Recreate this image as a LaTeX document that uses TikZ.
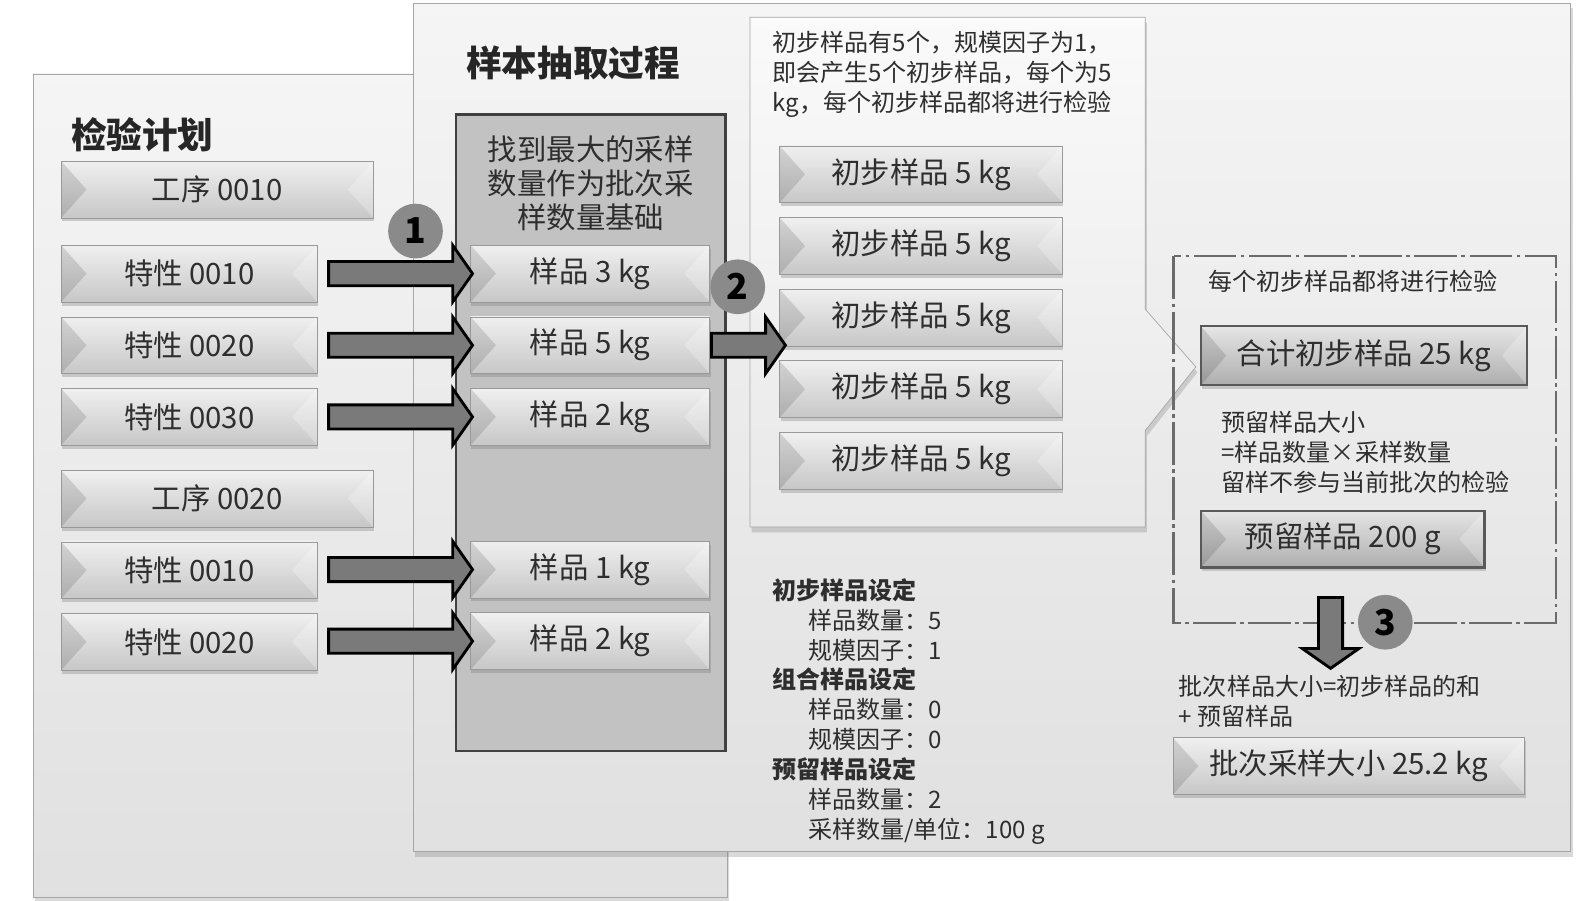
\documentclass[tikz,border=0pt]{standalone}
\usepackage{fontspec}
\setmainfont{Noto Sans CJK SC}
\usetikzlibrary{positioning,shapes.arrows,shadows}
\colorlet{ink}{black!82}
\colorlet{markc}{black!46}
\newcommand{\btnsize}{\fontsize{16.5}{19}\selectfont}
\newcommand{\txtsize}{\fontsize{13.5}{16.8}\selectfont}

\begin{document}
\begin{tikzpicture}[x=0.02cm,y=-0.02cm,font=\txtsize,text=ink,
  panel/.style={draw=black!35,top color=black!4,bottom color=black!12,
    drop shadow={shadow xshift=1pt,shadow yshift=-3pt,opacity=.3}},
  btn/.style={draw=black!40,top color=black!6,bottom color=black!22,
    minimum width=5.06cm,minimum height=1.12cm,inner sep=0pt,font=\btnsize,
    drop shadow={shadow xshift=.5pt,shadow yshift=-2pt,opacity=.35},
    path picture={
      \fill[black,opacity=.12] (path picture bounding box.north west)
        -- ([xshift=.5cm]path picture bounding box.west)
        -- (path picture bounding box.south west) -- cycle;
      \fill[white,opacity=.25] (path picture bounding box.north east)
        -- ([xshift=-.5cm]path picture bounding box.east)
        -- (path picture bounding box.south east) -- cycle;}},
  wide/.style={minimum width=6.16cm},
  strong/.style={draw=black!65,line width=1.3pt,top color=black!10,bottom color=black!32},
  heading/.style={font=\fontsize{20}{24}\selectfont\bfseries,text=black!85},
  stepmark/.style={circle,fill=markc,minimum size=1.08cm,inner sep=0pt,
    font=\fontsize{20}{20}\selectfont\bfseries,text=black},
  fat/.style={single arrow,draw=black,line width=1.6pt,fill=black!52,
    minimum width=1.1cm,inner sep=.21cm,single arrow head extend=.32cm,
    single arrow tip angle=110},
  dashbox/.style={draw=black!58,line width=1.2pt,
    dash pattern=on 24pt off 2.5pt on 2pt off 2.5pt}]
\useasboundingbox (0,0) rectangle (1568,889);
% --- panels ---
\path[panel] (33,73) rectangle (718,885);
\path[panel] (408,3) rectangle (1550,840);
\node[heading,anchor=west] (plantitle) at (64,133) {检验计划};
\node[heading,anchor=west] (proctitle) at (454,62) {样本抽取过程};
% --- inspection plan ---
\node[btn,wide,anchor=west] (op1) at (60,187) {工序 0010};
\node[btn,anchor=west] (c11) at (60,270) {特性 0010};
\node[btn,below=.28cm of c11] (c12) {特性 0020};
\node[btn,below=.28cm of c12] (c13) {特性 0030};
\node[btn,wide,anchor=west] (op2) at (60,492) {工序 0020};
\node[btn,below=.28cm of op2.south west,anchor=north west] (c21) {特性 0010};
\node[btn,below=.28cm of c21] (c22) {特性 0020};
% --- largest sample per characteristic ---
\path[draw=black!75,line width=1.3pt,fill=black!24] (450,113) rectangle (716,741);
\node[align=center,font=\fontsize{16.5}{19.3}\selectfont] (maxtxt) at (583,181)
  {找到最大的采样\\数量作为批次采\\样数量基础};
\node[btn,minimum width=4.72cm,anchor=west] (s1) at (464,270) {样品 3 kg};
\node[btn,minimum width=4.72cm,below=.28cm of s1] (s2) {样品 5 kg};
\node[btn,minimum width=4.72cm,below=.28cm of s2] (s3) {样品 2 kg};
\node[btn,minimum width=4.72cm,anchor=west] (s4) at (464,562) {样品 1 kg};
\node[btn,minimum width=4.72cm,below=.28cm of s4] (s5) {样品 2 kg};
% --- primary samples callout ---
\path[panel,top color=black!2,bottom color=black!9]
  (740,17) -- (1130,17) -- (1130,305) -- (1180,362) -- (1130,425)
  -- (1130,520) -- (740,520) -- cycle;
\node[anchor=west,align=left,inner sep=0pt] (primtxt) at (762,73)
  {初步样品有5个，规模因子为1，\\即会产生5个初步样品，每个为5\\kg，每个初步样品都将进行检验};
\node[btn,minimum width=5.58cm,anchor=west] (p1) at (769,172) {初步样品 5 kg};
\node[btn,minimum width=5.58cm,below=.28cm of p1] (p2) {初步样品 5 kg};
\node[btn,minimum width=5.58cm,below=.28cm of p2] (p3) {初步样品 5 kg};
\node[btn,minimum width=5.58cm,below=.28cm of p3] (p4) {初步样品 5 kg};
\node[btn,minimum width=5.58cm,below=.28cm of p4] (p5) {初步样品 5 kg};
% --- settings ---
\node[anchor=west,align=left,inner sep=0pt] (setup) at (762,702) {%
  \textbf{初步样品设定}\\
  \hspace*{.7cm}样品数量：5\\
  \hspace*{.7cm}规模因子：1\\
  \textbf{组合样品设定}\\
  \hspace*{.7cm}样品数量：0\\
  \hspace*{.7cm}规模因子：0\\
  \textbf{预留样品设定}\\
  \hspace*{.7cm}样品数量：2\\
  \hspace*{.7cm}采样数量/单位：100 g};
% --- inspection of each primary sample ---
\draw[dashbox] (1158,253) rectangle (1535,615);
\node (eachtxt) at (1335,278) {每个初步样品都将进行检验};
\node[btn,strong,minimum width=6.44cm,minimum height=1.16cm] (total) at (1346,351) {合计初步样品 25 kg};
\node[anchor=west,align=left,inner sep=0pt] (restxt) at (1205,446)
  {预留样品大小\\=样品数量×采样数量\\留样不参与当前批次的检验};
\node[btn,strong,minimum width=5.6cm] (res) at (1325,532) {预留样品 200 g};
\node[anchor=west,align=left,inner sep=0pt] (batchtxt) at (1163,692)
  {批次样品大小=初步样品的和\\+ 预留样品};
\node[btn,minimum width=6.94cm] (batch) at (1331,756) {批次采样大小 25.2 kg};
% --- step markers and arrows ---
\node[stepmark] (m1) at (410,228) {1};
\node[stepmark] (m2) at (728,283) {2};
\foreach \s in {s1,s2,s3,s4,s5}
  \node[fat,minimum height=2.84cm,anchor=tip] (a-\s) at ([xshift=.08cm]\s.west) {};
\node[fat,minimum height=1.46cm,anchor=tail] (a2) at (s2.east) {};
\node[fat,minimum height=1.4cm,rotate=-90,anchor=tail] (a3)
  at ([xshift=-.24cm,yshift=-.54cm]res.south) {};
\node[stepmark] (m3) at (1367,614) {3};
\end{tikzpicture}
\end{document}
